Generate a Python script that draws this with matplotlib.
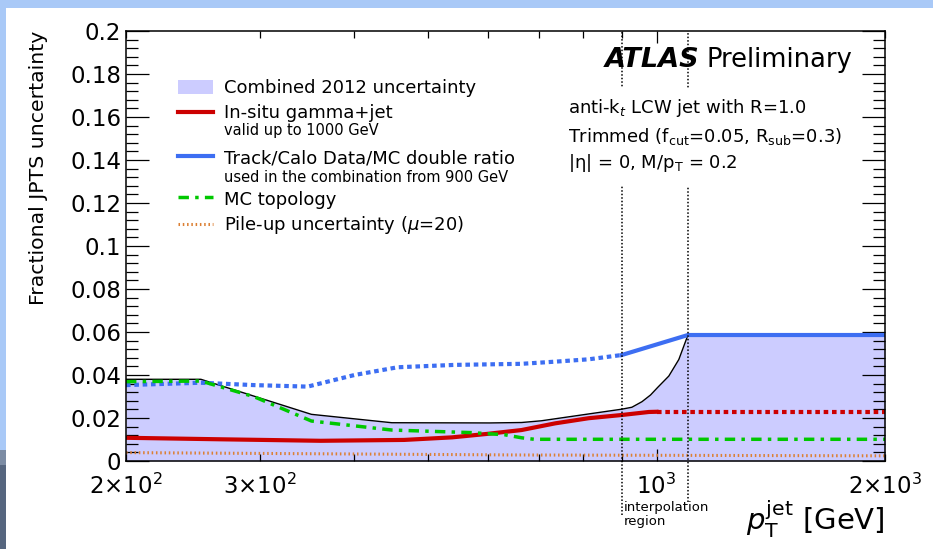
import numpy as np
import matplotlib.pyplot as plt
from matplotlib.patches import Rectangle
from matplotlib.ticker import FixedLocator, FuncFormatter, MultipleLocator

plt.rcParams['font.family'] = ['DejaVu Sans']
plt.rcParams['mathtext.fontset'] = 'dejavusans'

# combined 2012 uncertainty (upper edge of the band)
pt_comb = [200, 251, 351, 448, 603, 664, 705, 800, 900, 928, 957, 982, 1004, 1038, 1070, 1100, 2000]
unc_comb = [0.0380, 0.0380, 0.0217, 0.0178, 0.0177, 0.0179, 0.0187, 0.0215, 0.0241, 0.0250,
            0.0276, 0.0307, 0.0343, 0.0395, 0.0472, 0.0586, 0.0586]

# in-situ gamma+jet (valid up to 1000 GeV, then extrapolated)
pt_gj = [200, 266, 361, 465, 538, 598, 664, 735, 814, 900, 977, 1000]
unc_gj = [0.0108, 0.0101, 0.0094, 0.0098, 0.0110, 0.0126, 0.0144, 0.0175, 0.0199, 0.0214, 0.0228, 0.0229]
pt_gj_ext = [1000, 2000]
unc_gj_ext = [0.0229, 0.0229]

# track/calo double ratio (used from 900 GeV)
pt_tc = [200, 251, 295, 347, 400, 456, 542, 664, 735, 814, 900]
unc_tc = [0.0353, 0.0364, 0.0353, 0.0346, 0.0400, 0.0436, 0.0447, 0.0452, 0.0462, 0.0473, 0.0493]
pt_tc_used = [900, 1100, 2000]
unc_tc_used = [0.0493, 0.0586, 0.0586]

# MC topology
pt_mc = [200, 251, 295, 351, 448, 570, 631, 664, 690, 2000]
unc_mc = [0.0369, 0.0372, 0.0299, 0.0186, 0.0144, 0.0132, 0.0122, 0.0108, 0.0101, 0.0101]

# pile-up
pt_pu = [200, 660, 2000]
unc_pu = [0.0039, 0.0028, 0.0024]

interp_lo, interp_hi = 900, 1100

c_band = '#CCCCFF'
c_red = '#CC0000'
c_blue = '#3D6EF2'
c_green = '#00C800'
c_orange = '#DC8034'

fig = plt.figure(figsize=(9.33, 5.49), dpi=100)
W, H = 933.0, 549.0

# slide background strips
fig.add_artist(Rectangle((0, 1 - 8 / H), 1, 8 / H, transform=fig.transFigure, color='#A9C9F7', lw=0))
fig.add_artist(Rectangle((0, 99 / H), 6 / W, 1, transform=fig.transFigure, color='#A9C9F7', lw=0))
fig.add_artist(Rectangle((0, 84 / H), 6 / W, 15 / H, transform=fig.transFigure, color='#7C8CA4', lw=0))
fig.add_artist(Rectangle((0, 0), 6 / W, 84 / H, transform=fig.transFigure, color='#56667F', lw=0))

ax = fig.add_axes([126 / W, 88 / H, 759 / W, 430 / H])
ax.set_xscale('log')
ax.set_xlim(200, 2000)
ax.set_ylim(0, 0.2)

ax.fill_between(pt_comb, 0, unc_comb, color=c_band, lw=0, zorder=1)
ax.plot(pt_comb, unc_comb, color='black', lw=1.0, zorder=2)

ax.plot(pt_tc, unc_tc, color=c_blue, lw=3, ls=(0, (1.1, 0.9)), zorder=3)
ax.plot(pt_tc_used, unc_tc_used, color=c_blue, lw=3, zorder=3)
ax.plot(pt_gj, unc_gj, color=c_red, lw=3, zorder=4)
ax.plot(pt_gj_ext, unc_gj_ext, color=c_red, lw=3, ls=(0, (1.1, 0.9)), zorder=4)
ax.plot(pt_mc, unc_mc, color=c_green, lw=2.5, ls=(0, (3, 1.8, 1, 1.8)), zorder=5)
ax.plot(pt_pu, unc_pu, color=c_orange, lw=2.2, ls=(0, (0.5, 0.9)), zorder=5)

# interpolation region markers
ax.plot([interp_lo, interp_lo], [-0.0251, 0.2], color='black', lw=1.1, ls=(0, (1, 1.3)),
        clip_on=False, zorder=6)
ax.plot([interp_hi, interp_hi], [-0.0190, 0.2], color='black', lw=1.1, ls=(0, (1, 1.3)),
        clip_on=False, zorder=6)

# ticks
ax.xaxis.set_major_locator(FixedLocator([1000]))
ax.xaxis.set_minor_locator(FixedLocator([200, 300, 400, 500, 600, 700, 800, 900, 2000]))
xlabels = {200: r'$2{\times}10^{2}$', 300: r'$3{\times}10^{2}$', 1000: r'$10^{3}$', 2000: r'$2{\times}10^{3}$'}
ax.xaxis.set_major_formatter(FuncFormatter(lambda v, p: xlabels.get(int(round(v)), '')))
ax.xaxis.set_minor_formatter(FuncFormatter(lambda v, p: xlabels.get(int(round(v)), '')))
ax.yaxis.set_major_locator(FixedLocator(np.arange(0, 0.2001, 0.02)))
ax.yaxis.set_minor_locator(MultipleLocator(0.004))
ax.yaxis.set_major_formatter(FuncFormatter(lambda v, p: '%g' % round(v, 3)))

ax.tick_params(axis='both', which='both', direction='in', top=True, right=True, width=0.9, zorder=7)
ax.tick_params(axis='y', which='major', length=16.5, labelsize=16.5, pad=3.5)
ax.tick_params(axis='y', which='minor', length=8.5)
ax.tick_params(axis='x', which='major', length=8.6, labelsize=16.5, pad=8.8)
ax.tick_params(axis='x', which='minor', length=5.2, labelsize=16.5, pad=8.8)
for s in ax.spines.values():
    s.set_linewidth(1.1)
    s.set_zorder(8)

ax.set_ylabel('Fractional JPTS uncertainty', fontsize=14.7, ha='right')
ax.yaxis.set_label_coords(-0.103, 1.0)
ax.text(1.0, -0.1605, r'$p_{\mathrm{T}}^{\mathrm{jet}}$ [GeV]', transform=ax.transAxes,
        ha='right', va='baseline', fontsize=21)
ax.text(905, -0.1163, 'interpolation', ha='left', va='baseline', fontsize=9.5,
        transform=ax.get_xaxis_transform())
ax.text(905, -0.1480, 'region', ha='left', va='baseline', fontsize=9.5,
        transform=ax.get_xaxis_transform())

# legend drawn by hand, ROOT style
lx0, lx1, tx = 0.0685, 0.1146, 0.1291
ax.add_patch(Rectangle((lx0, 0.853), lx1 - lx0, 0.033, transform=ax.transAxes, color=c_band, lw=0))
ax.plot([lx0, lx1], [0.8116, 0.8116], transform=ax.transAxes, color=c_red, lw=3)
ax.plot([lx0, lx1], [0.7093, 0.7093], transform=ax.transAxes, color=c_blue, lw=3)
ax.plot([lx0, lx1], [0.614, 0.614], transform=ax.transAxes, color=c_green, lw=2.5,
        ls=(0, (3, 1.8, 1, 1.8)))
ax.plot([lx0, lx1], [0.5512, 0.5512], transform=ax.transAxes, color=c_orange, lw=2.2,
        ls=(0, (0.5, 0.9)))
ax.text(tx, 0.8558, 'Combined 2012 uncertainty', transform=ax.transAxes, va='baseline', fontsize=13)
ax.text(tx, 0.7977, 'In-situ gamma+jet', transform=ax.transAxes, va='baseline', fontsize=13)
ax.text(tx, 0.7581, 'valid up to 1000 GeV', transform=ax.transAxes, va='baseline', fontsize=10.5)
ax.text(tx, 0.6907, 'Track/Calo Data/MC double ratio', transform=ax.transAxes, va='baseline', fontsize=13)
ax.text(tx, 0.6488, 'used in the combination from 900 GeV', transform=ax.transAxes, va='baseline',
        fontsize=10.5)
ax.text(tx, 0.5953, 'MC topology', transform=ax.transAxes, va='baseline', fontsize=13)
ax.text(tx, 0.5372, r'Pile-up uncertainty ($\mu$=20)', transform=ax.transAxes, va='baseline', fontsize=13)

# labels
ax.text(0.631, 0.9163, 'ATLAS', transform=ax.transAxes, va='baseline', fontsize=19.5,
        fontweight='bold', fontstyle='italic', zorder=9)
ax.text(0.7642, 0.9163, 'Preliminary', transform=ax.transAxes, va='baseline', fontsize=18.5, zorder=9)
ax.add_patch(Rectangle((0.57, 0.6395), 0.385, 0.228, transform=ax.transAxes, color='white', lw=0, zorder=8.5))
ax.text(0.5823, 0.8093, r'anti-k$_{t}$ LCW jet with R=1.0', transform=ax.transAxes, va='baseline',
        fontsize=13, zorder=9)
ax.text(0.5823, 0.7419, r'Trimmed (f$_{\mathrm{cut}}$=0.05, R$_{\mathrm{sub}}$=0.3)', transform=ax.transAxes,
        va='baseline', fontsize=13, zorder=9)
ax.text(0.5823, 0.6814, r'|η| = 0, M/p$_{\mathrm{T}}$ = 0.2', transform=ax.transAxes, va='baseline',
        fontsize=13, zorder=9)

fig.savefig('out.png', dpi=100)
